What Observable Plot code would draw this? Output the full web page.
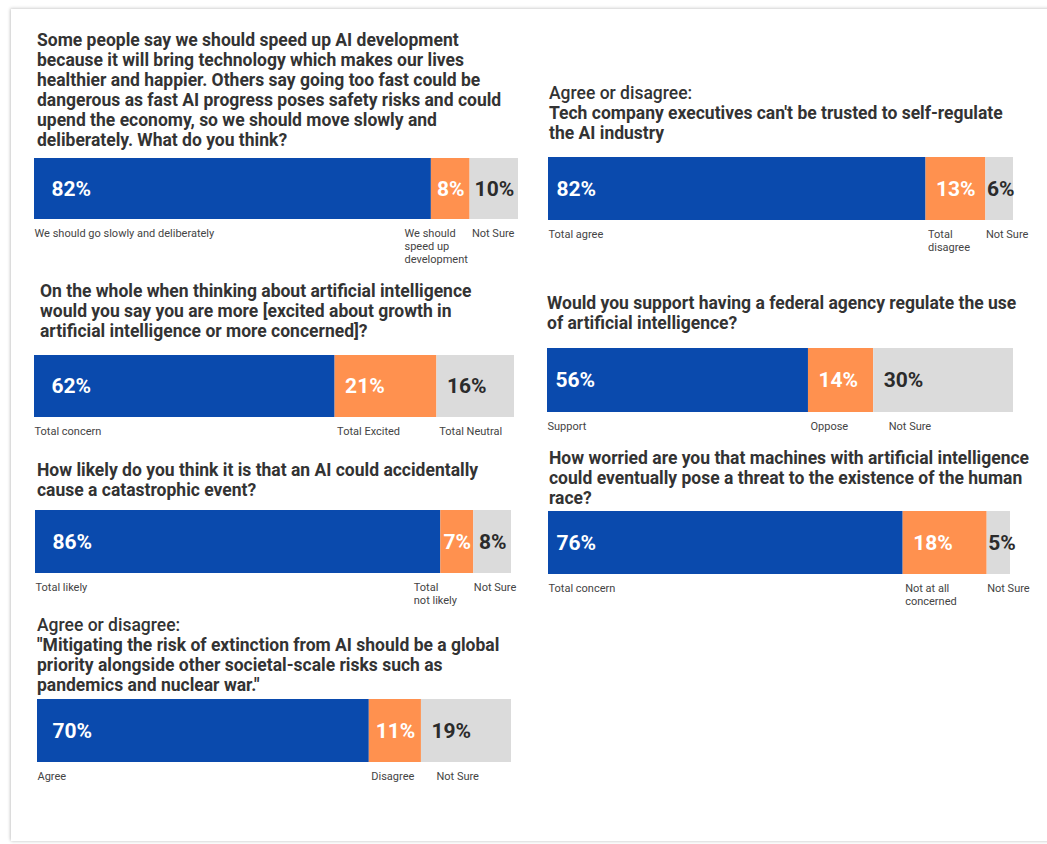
<!DOCTYPE html>
<html><head><meta charset="utf-8">
<script src="https://cdn.jsdelivr.net/npm/d3@7"></script>
<script src="https://cdn.jsdelivr.net/npm/@observablehq/plot@0.6"></script>
<style>
body{margin:0;background:#fff;font-family:Roboto,"Open Sans",sans-serif;}
#page{position:relative;width:1047px;height:844px;overflow:hidden;background:#fff;}
#frame{position:absolute;left:11px;top:9px;width:1060px;height:832px;box-shadow:-1px -1px 3px rgba(0,0,0,0.16), 0 1px 3px rgba(0,0,0,0.12);}
.title{position:absolute;font-weight:700;font-size:17.5px;line-height:20px;color:#333;white-space:nowrap;}
.title .light{font-weight:500;}
.panel{position:absolute;width:600px;}
.panel svg{overflow:visible;max-width:none !important;}
</style></head><body><div id="page"><div id="frame"></div></div>
<script>
// ---- data ----
const speedTitle = ["Some people say we should speed up AI development", "because it will bring technology which makes our lives", "healthier and happier. Others say going too fast could be", "dangerous as fast AI progress poses safety risks and could", "upend the economy, so we should move slowly and", "deliberately. What do you think?"];
const speedCategories = ["We should go slowly and deliberately", "We should\nspeed up\ndevelopment", "Not Sure"];
const speedValues = [82, 8, 10];

const selfRegTitle = ["Agree or disagree:", "Tech company executives can't be trusted to self-regulate", "the AI industry"];
const selfRegCategories = ["Total agree", "Total\ndisagree", "Not Sure"];
const selfRegValues = [82, 13, 6];

const excitedTitle = ["On the whole when thinking about artificial intelligence", "would you say you are more [excited about growth in", "artificial intelligence or more concerned]?"];
const excitedCategories = ["Total concern", "Total Excited", "Total Neutral"];
const excitedValues = [62, 21, 16];

const agencyTitle = ["Would you support having a federal agency regulate the use", "of artificial intelligence?"];
const agencyCategories = ["Support", "Oppose", "Not Sure"];
const agencyValues = [56, 14, 30];

const catastropheTitle = ["How likely do you think it is that an AI could accidentally", "cause a catastrophic event?"];
const catastropheCategories = ["Total likely", "Total\nnot likely", "Not Sure"];
const catastropheValues = [86, 7, 8];

const threatTitle = ["How worried are you that machines with artificial intelligence", "could eventually pose a threat to the existence of the human", "race?"];
const threatCategories = ["Total concern", "Not at all\nconcerned", "Not Sure"];
const threatValues = [76, 18, 5];

const extinctionTitle = ["Agree or disagree:", "\"Mitigating the risk of extinction from AI should be a global", "priority alongside other societal-scale risks such as", "pandemics and nuclear war.\""];
const extinctionCategories = ["Agree", "Disagree", "Not Sure"];
const extinctionValues = [70, 11, 19];

const segmentColors = ["#0a4aad", "#ff914f", "#dbdbdb"];
const percentColors = ["#ffffff", "#ffffff", "#2b2b2b"];

// ---- layout (presentation only) ----
const panels = [
  {title: speedTitle, cats: speedCategories, vals: speedValues, tx: 37, ty: 30, bx: 34, by: 158, bw: 484, bh: 61, inset: 17},
  {title: selfRegTitle, cats: selfRegCategories, vals: selfRegValues, tx: 549, ty: 83, bx: 548, by: 157, bw: 465, bh: 63, inset: 8},
  {title: excitedTitle, cats: excitedCategories, vals: excitedValues, tx: 40, ty: 281, bx: 34, by: 355, bw: 480, bh: 62, inset: 17},
  {title: agencyTitle, cats: agencyCategories, vals: agencyValues, tx: 547, ty: 293, bx: 547, by: 348, bw: 466, bh: 64, inset: 8},
  {title: catastropheTitle, cats: catastropheCategories, vals: catastropheValues, tx: 37, ty: 460, bx: 35, by: 510, bw: 476, bh: 63, inset: 17},
  {title: threatTitle, cats: threatCategories, vals: threatValues, tx: 549, ty: 448, bx: 548, by: 511, bw: 462, bh: 63, inset: 8},
  {title: extinctionTitle, cats: extinctionCategories, vals: extinctionValues, tx: 37, ty: 615, bx: 37, by: 699, bw: 474, bh: 63, inset: 15}
];

const page = document.getElementById("page");

function pctWidth(v) { return String(v).length * 11.9 + 15.6; }
function labelWidth(s) { return d3.max(s.split("\n"), l => l.length) * 5.6; }

for (const p of panels) {
  const t = document.createElement("div");
  t.className = "title";
  t.style.left = p.tx + "px";
  t.style.top = p.ty + "px";
  t.innerHTML = p.title.map(l => l === "Agree or disagree:" ? `<span class="light">${l}</span>` : l.replace(/&/g,"&amp;")).join("<br>");
  page.appendChild(t);

  const total = d3.sum(p.vals);
  const ends = d3.cumsum(p.vals);
  const data = p.cats.map((c, i) => ({cat: c, value: p.vals[i], i, start: ends[i] - p.vals[i], end: ends[i]}));
  const k = p.bw / total;
  const last = data.length - 1;

  const marks = [
    Plot.rectX(data, {x1: "start", x2: "end", fill: d => d.i})
  ];
  for (const d of data) {
    const segW = d.value * k;
    const maxPad = d.i === 0 ? p.inset : 10;
    const pad = Math.max(1, Math.min(maxPad, (segW - pctWidth(d.value)) / 2));
    marks.push(Plot.text([d], {
      x: "start", text: d => d.value + "%", textAnchor: "start", dx: pad,
      fill: percentColors[d.i], fontSize: 21, fontWeight: 700
    }));
    let shift = 0;
    if (d.i > 0 && d.i < last) {
      const nextStartPx = data[d.i + 1].start * k;
      shift = Math.min(2, nextStartPx - labelWidth(d.cat) - 4 - d.start * k);
    } else if (d.i === last) {
      shift = Math.max(0, Math.min(15, (segW - labelWidth(d.cat)) / 2));
    }
    marks.push(Plot.text([d], {
      x: "start", text: "cat", frameAnchor: "bottom", lineAnchor: "top", textAnchor: "start",
      dx: shift, dy: 9, fill: "#444", fontSize: 11, lineHeight: 1.15
    }));
  }

  const chart = Plot.plot({
    width: p.bw + 40, height: p.bh + 50,
    marginLeft: 0, marginRight: 40, marginTop: 0, marginBottom: 50,
    x: {domain: [0, total], axis: null},
    color: {domain: [0, 1, 2], range: segmentColors},
    style: {fontFamily: "Roboto, 'Open Sans', sans-serif", background: "transparent", overflow: "visible", maxWidth: "none"},
    marks
  });
  const wrap = document.createElement("div");
  wrap.className = "panel";
  wrap.style.left = p.bx + "px";
  wrap.style.top = p.by + "px";
  wrap.appendChild(chart);
  page.appendChild(wrap);
}
</script></body></html>
